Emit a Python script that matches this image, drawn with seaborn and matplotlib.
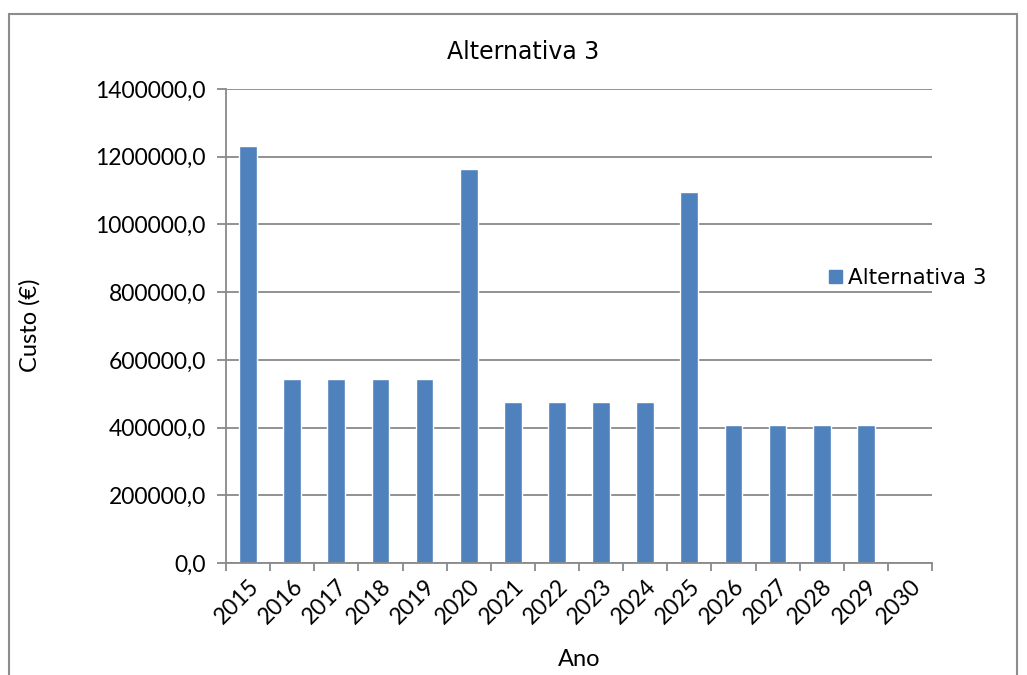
import matplotlib
matplotlib.use("Agg")
import matplotlib.pyplot as plt
import matplotlib.patches as mpatches
from matplotlib.ticker import FixedLocator
import pandas as pd
import seaborn as sns

# data
anos = ["2015", "2016", "2017", "2018", "2019", "2020", "2021", "2022",
        "2023", "2024", "2025", "2026", "2027", "2028", "2029", "2030"]
custo = [1231000, 544000, 544000, 544000, 544000, 1164000, 476000, 476000,
         476000, 476000, 1097000, 408000, 408000, 408000, 408000, 0]
serie = "Alternativa 3"
yticks = [0, 200000, 400000, 600000, 800000, 1000000, 1200000, 1400000]

df = pd.DataFrame({"Ano": anos, "Custo": custo})

sns.set_theme(style="white")
plt.rcParams["font.family"] = ["Lato", "DejaVu Sans"]
plt.rcParams["text.color"] = "black"
plt.rcParams["xtick.color"] = "black"
plt.rcParams["ytick.color"] = "black"

bar_color = "#4F81BD"
grid_color = "#898989"

fig = plt.figure(figsize=(10.27, 6.75), dpi=100)
ax = fig.add_axes([226 / 1027, 1 - 563 / 675, (932 - 226) / 1027, (563 - 89) / 675])

sns.barplot(data=df, x="Ano", y="Custo", color=bar_color, width=0.4,
            saturation=1, ax=ax)

ax.set_xlim(-0.5, len(anos) - 0.5)
ax.set_ylim(0, 1400000)
ax.set_yticks(yticks)
ax.set_yticklabels([f"{v},0" for v in yticks], fontsize=16.5)
ax.yaxis.grid(True, color=grid_color, linewidth=1.3)
ax.set_axisbelow(True)

ax.set_xticks(range(len(anos)))
ax.set_xticklabels(anos, rotation=45, ha="right", rotation_mode="anchor", fontsize=16.5)
ax.xaxis.set_minor_locator(FixedLocator([i - 0.5 for i in range(len(anos) + 1)]))
ax.tick_params(axis="x", which="major", length=0, pad=9)
ax.tick_params(axis="x", which="minor", length=6, width=1.3, color=grid_color, bottom=True)
ax.tick_params(axis="y", which="major", length=6.5, width=1.3, color=grid_color, left=True, pad=8)

for side in ["top", "right"]:
    ax.spines[side].set_visible(False)
for side in ["left", "bottom"]:
    ax.spines[side].set_color(grid_color)
    ax.spines[side].set_linewidth(1.3)

ax.set_xlabel("")
ax.set_ylabel("")
fig.text(579 / 1027, 1 - 660 / 675, "Ano", ha="center", va="center", fontsize=17)
fig.text(30 / 1027, 1 - 325 / 675, "Custo (€)", ha="center", va="center",
         rotation=90, fontsize=17)
fig.text(523 / 1027, 1 - 52 / 675, serie, ha="center", va="center",
         fontsize=17, family=["DejaVu Sans"])

fig.legend(handles=[mpatches.Patch(color=bar_color, label=serie)],
           loc="center left", bbox_to_anchor=(818 / 1027, 1 - 278 / 675),
           frameon=False, handlelength=0.6, handleheight=0.6,
           handletextpad=0.3, borderpad=0, prop={"family": "DejaVu Sans", "size": 15.5})

# outer chart border
fig.patches.append(mpatches.Rectangle((9 / 1027, -0.05), (1017 - 9) / 1027, 1.05 - 14 / 675,
                                      transform=fig.transFigure, fill=False,
                                      edgecolor="#8c8c8c", linewidth=1.5))

fig.savefig("out.png", dpi=100)
